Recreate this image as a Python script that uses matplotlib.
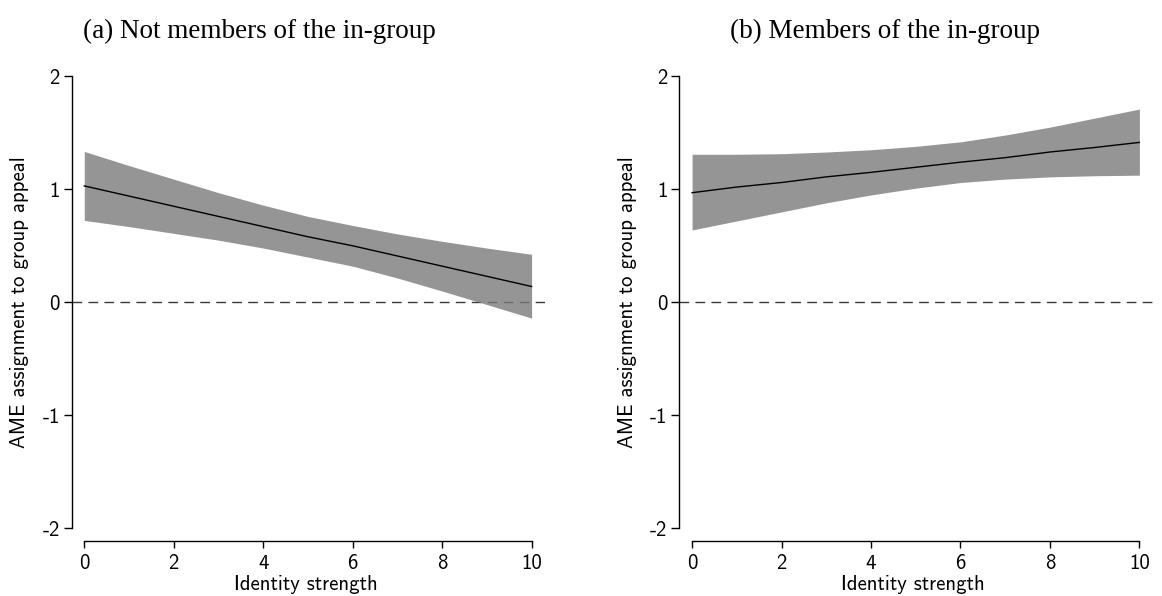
import matplotlib
matplotlib.use("Agg")
import matplotlib.pyplot as plt
import numpy as np

# identity strength grid and average marginal effects with 95% CI
strength = [0, 1, 2, 3, 4, 5, 6, 7, 8, 9, 10]

ame_out = [1.03, 0.94, 0.85, 0.76, 0.67, 0.58, 0.50, 0.41, 0.32, 0.23, 0.14]
hi_out = [1.335, 1.21, 1.09, 0.97, 0.86, 0.76, 0.68, 0.605, 0.54, 0.48, 0.425]
lo_out = [0.725, 0.67, 0.61, 0.55, 0.48, 0.40, 0.32, 0.215, 0.10, -0.02, -0.14]

ame_in = [0.97, 1.02, 1.06, 1.11, 1.15, 1.195, 1.24, 1.28, 1.33, 1.37, 1.415]
hi_in = [1.31, 1.31, 1.315, 1.33, 1.35, 1.38, 1.42, 1.48, 1.55, 1.63, 1.71]
lo_in = [0.64, 0.72, 0.80, 0.88, 0.95, 1.01, 1.06, 1.09, 1.11, 1.12, 1.125]

titles = ["(a) Not members of the in-group", "(b) Members of the in-group"]
yticks = [-2, -1, 0, 1, 2]
xticks = [0, 2, 4, 6, 8, 10]

sans = "cmss10"
serif = "Liberation Serif"
fs = 15

W, H = 1162, 596
fig = plt.figure(figsize=(W / 100, H / 100), dpi=100)

panels = [
    (71.5, ame_out, hi_out, lo_out, titles[0], 259),
    (679.3, ame_in, hi_in, lo_in, titles[1], 885),
]

for left_px, ame, hi, lo, title, title_x in panels:
    ax = fig.add_axes([left_px / W, 1 - 541.3 / H, 473.5 / W, (541.3 - 70.65) / H])
    ax.set_xlim(-0.286, 10.3)
    ax.set_ylim(-2.115, 2.05)

    ax.axhline(0, color="#3a3a3a", lw=1.0, dashes=(7, 4.5), zorder=1)
    ax.fill_between(strength, lo, hi, color="#7b7b7b", alpha=0.8, lw=0, zorder=2)
    ax.plot(strength, ame, color="black", lw=1.0, zorder=3)

    for s in ["top", "right"]:
        ax.spines[s].set_visible(False)
    ax.spines["left"].set_bounds(-2, 2)
    ax.spines["bottom"].set_bounds(0, 10)
    ax.spines["left"].set_linewidth(1.0)
    ax.spines["bottom"].set_linewidth(1.0)

    ax.set_yticks(yticks)
    ax.set_yticklabels([str(v) for v in yticks], fontfamily=sans, fontsize=fs)
    ax.set_xticks(xticks)
    ax.set_xticklabels([str(v) for v in xticks], fontfamily=sans, fontsize=fs)
    ax.tick_params(axis="y", length=5.5, width=1.0, pad=3)
    ax.tick_params(axis="x", length=5.0, width=1.0, pad=4)

    fig.text((left_px - 52) / W, 1 - 302.3 / H, "AME assignment to group appeal",
             rotation=90, ha="center", va="center", fontfamily=sans, fontsize=fs)
    fig.text((left_px + 234) / W, 1 - 585 / H, "Identity strength",
             ha="center", va="center", fontfamily=sans, fontsize=fs)
    fig.text(title_x / W, 1 - 31 / H, title, ha="center", va="center",
             fontfamily=serif, fontsize=19.5)

fig.savefig("out.png", dpi=100)
